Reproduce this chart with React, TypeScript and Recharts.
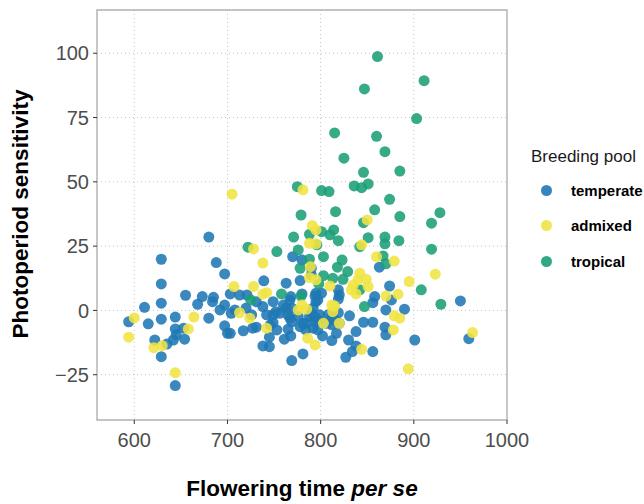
import React from 'react';
import { ScatterChart, Scatter, XAxis, YAxis, CartesianGrid, ReferenceArea, Label } from 'recharts';

const FONT = '"Liberation Sans", Arial, Helvetica, sans-serif';

const xTicks = [600, 700, 800, 900, 1000];
const yTicks = [-25, 0, 25, 50, 75, 100];
const xDomain: [number, number] = [560, 1000];
const yDomain: [number, number] = [-42.6, 116.8];

const xTitle = 'Flowering time ';
const xTitleItalic = 'per se';
const yTitle = 'Photoperiod sensitivity';
const legendTitle = 'Breeding pool';

// [flowering time, photoperiod sensitivity]
const temperate: [number, number][] = [
  [629, 19.9], [688, 18.6], [697, 14.2], [629, 10.3], [655, 5.9], [673, 5.4], [685, 5.1], [684, 3.4],
  [668, 2.4], [629, 2.8], [611, 1.2], [697, 2.1], [692, 0.2], [680, -3.0], [594, -4.4], [615, -5.2],
  [629, -3.4], [644, -2.6], [653, -6.9], [644, -7.2], [697, -6.0], [700, -8.9], [645, -9.5], [654, -11.2],
  [642, -11.5], [635, -13.1], [622, -11.5], [629, -18.0], [644, -29.2], [680, 28.5], [770, 20.9], [780, 19.6],
  [739, 11.5], [763, 10.6], [778, 11.6], [780, 6.4], [721, 6.0], [713, 6.0], [703, 6.4], [731, 3.4],
  [749, 3.4], [767, 4.1], [708, 0.2], [720, 0.9], [738, 1.5], [763, 0.9], [792, 0.9], [726, -1.7],
  [742, -1.7], [756, -1.1], [794, -2.6], [704, -1.1], [749, -1.7], [767, -3.0], [788, -2.4], [703, -8.9],
  [717, -7.9], [727, -6.9], [731, -6.5], [746, -5.6], [745, -10.4], [738, -13.8], [745, -14.1], [761, -11.2],
  [768, -9.9], [778, -6.3], [784, -5.0], [792, -6.9], [797, -3.7], [781, -16.9], [769, -19.5], [819, 8.0],
  [820, 6.0], [768, 5.4], [794, 5.6], [801, 6.7], [795, 3.4], [760, 2.1], [769, 0.9], [752, -0.5],
  [765, -1.7], [776, -2.4], [790, -1.1], [799, -1.7], [808, -1.7], [819, -0.9], [831, -2.1], [749, -4.7],
  [769, -4.4], [781, -5.0], [794, -4.4], [812, -5.6], [820, -5.0], [753, -7.6], [765, -7.3], [784, -7.6],
  [797, -7.6], [817, -8.9], [838, -8.2], [802, -9.9], [863, 16.8], [790, 16.4], [790, 13.8], [874, 9.5],
  [795, 6.7], [858, 5.4], [797, 4.1], [819, 4.4], [856, 3.0], [876, 4.1], [890, 0.5], [812, -2.4],
  [806, -5.0], [815, -3.7], [870, 0.2], [846, -4.6], [856, -4.6], [869, -6.5], [870, -9.5], [812, -11.7],
  [830, -11.5], [838, -13.8], [834, -16.0], [856, -16.0], [827, -18.2], [950, 3.7], [901, -11.5], [959, -11.0],
];

const admixed: [number, number][] = [
  [664, -2.6], [600, -2.9], [658, -7.2], [594, -10.4], [621, -14.5], [630, -13.7], [644, -24.2], [705, 45.2],
  [728, 23.9], [788, 26.1], [789, 17.0], [738, 18.4], [707, 9.3], [728, 9.3], [788, 12.8], [742, 6.9],
  [738, 6.3], [780, 2.1], [776, 0.2], [713, -0.9], [724, -3.0], [742, -6.9], [786, -10.8], [794, -13.4],
  [810, 9.5], [785, 0.5], [812, 2.1], [813, -0.5], [803, -5.0], [795, 25.9], [844, 25.5], [860, 20.9],
  [879, 19.2], [842, 14.5], [795, 11.9], [840, 11.9], [849, 12.1], [835, 9.9], [851, 9.3], [895, 11.2],
  [833, 8.0], [838, 6.4], [870, 5.6], [883, 6.3], [815, 1.7], [879, -2.1], [820, -5.0], [878, -7.6],
  [844, -15.1], [894, -22.7], [923, 14.1], [885, -3.0], [781, 46.9], [850, 35.2], [791, 33.0], [795, 31.3],
  [963, -8.6],
];

const tropical: [number, number][] = [
  [722, 24.6], [753, 22.9], [776, 23.5], [796, 25.5], [778, 16.4], [788, 19.9], [758, 6.4], [725, 4.1],
  [798, 10.3], [779, 5.6], [842, 24.8], [803, 20.9], [823, 19.6], [867, 21.2], [870, 18.1], [818, 16.8],
  [829, 15.1], [803, 13.5], [813, 12.5], [824, 12.1], [842, 8.0], [847, 1.5], [919, 23.8], [908, 8.0],
  [929, 2.4], [825, 59.2], [869, 61.7], [846, 53.7], [885, 54.2], [775, 48.1], [801, 46.6], [809, 46.2],
  [836, 48.4], [844, 47.7], [851, 49.2], [874, 43.2], [779, 37.1], [816, 38.4], [858, 39.1], [885, 36.5],
  [846, 34.1], [788, 29.6], [801, 30.6], [814, 31.3], [810, 29.4], [771, 28.5], [819, 27.1], [851, 28.3],
  [869, 28.5], [869, 25.9], [884, 27.1], [861, 98.7], [911, 89.3], [847, 86.1], [903, 74.6], [860, 67.7],
  [928, 38.0], [919, 33.9], [815, 69.0],
];

const pools = [
  { name: 'temperate', color: '#1F78B4', data: temperate },
  { name: 'admixed', color: '#F0E442', data: admixed },
  { name: 'tropical', color: '#1B9E77', data: tropical },
];

const drawOrder = ['temperate', 'tropical', 'admixed'];

const toPoints = (arr: [number, number][]) => arr.map(([x, y]) => ({ x, y }));

const makeDot = (color: string) => (props: any) => {
  if (props.cx == null || props.cy == null) return <g />;
  return <circle cx={props.cx} cy={props.cy} r={5.5} fill={color} fillOpacity={0.88} />;
};

const fmt = (v: number) => (v < 0 ? '\u2212' + Math.abs(v) : String(v));

const renderXTitle = (props: any) => {
  const vb = props.viewBox || {};
  const cx = (vb.x ?? 97) + (vb.width ?? 410) / 2;
  return (
    <text x={cx} y={496} textAnchor="middle" fontFamily={FONT} fontSize={22.5} fontWeight="bold" fill="#000">
      <tspan>{xTitle}</tspan>
      <tspan fontStyle="italic">{xTitleItalic}</tspan>
    </text>
  );
};

const renderYTitle = () => (
  <text
    x={20}
    y={214}
    transform="rotate(-90, 20, 214)"
    textAnchor="middle"
    dominantBaseline="central"
    fontFamily={FONT}
    fontSize={22.5}
    fontWeight="bold"
    fill="#000"
  >
    {yTitle}
  </text>
);

export default function App() {
  return (
    <div style={{ position: 'absolute', left: 0, top: 0, width: 644, height: 504, background: '#fff' }}>
      <ScatterChart width={644} height={504} margin={{ top: 10, right: 137, bottom: 54, left: 37 }}>
        <CartesianGrid stroke="#c4c4c4" strokeDasharray="1 3" strokeWidth={1} />
        <XAxis
          type="number"
          dataKey="x"
          domain={xDomain}
          ticks={xTicks}
          allowDataOverflow
          height={30}
          axisLine={false}
          tickSize={4}
          tickMargin={9}
          tickLine={{ stroke: '#333333' }}
          tick={{ fill: '#4d4d4d', fontSize: 20, fontFamily: FONT }}
        >
          <Label content={renderXTitle} />
        </XAxis>
        <YAxis
          type="number"
          dataKey="y"
          domain={yDomain}
          ticks={yTicks}
          allowDataOverflow
          width={60}
          axisLine={false}
          tickSize={4}
          tickMargin={4}
          tickLine={{ stroke: '#333333' }}
          tick={{ fill: '#4d4d4d', fontSize: 20, fontFamily: FONT }}
          tickFormatter={fmt}
        >
          <Label content={renderYTitle} />
        </YAxis>
        {drawOrder.map((n) => {
          const p = pools.find((q) => q.name === n)!;
          return (
            <Scatter
              key={p.name}
              name={p.name}
              data={toPoints(p.data)}
              fill={p.color}
              shape={makeDot(p.color)}
              isAnimationActive={false}
            />
          );
        })}
        <ReferenceArea
          x1={xDomain[0]}
          x2={xDomain[1]}
          y1={yDomain[0]}
          y2={yDomain[1]}
          fill="none"
          stroke="#b3b3b3"
          strokeWidth={1.4}
          ifOverflow="visible"
        />
      </ScatterChart>
      <div style={{ position: 'absolute', left: 531, top: 147, fontFamily: FONT, fontSize: 17, color: '#1a1a1a', lineHeight: '20px', whiteSpace: 'nowrap' }}>
        {legendTitle}
      </div>
      {pools.map((p, i) => (
        <div key={p.name} style={{ position: 'absolute', left: 541, top: 180 + i * 35.7, height: 20, display: 'flex', alignItems: 'center', whiteSpace: 'nowrap' }}>
          <span style={{ display: 'inline-block', width: 11, height: 11, borderRadius: '50%', background: p.color, opacity: 0.9 }} />
          <span style={{ marginLeft: 19, fontFamily: FONT, fontSize: 15, fontWeight: 'bold', color: '#000' }}>{p.name}</span>
        </div>
      ))}
    </div>
  );
}
